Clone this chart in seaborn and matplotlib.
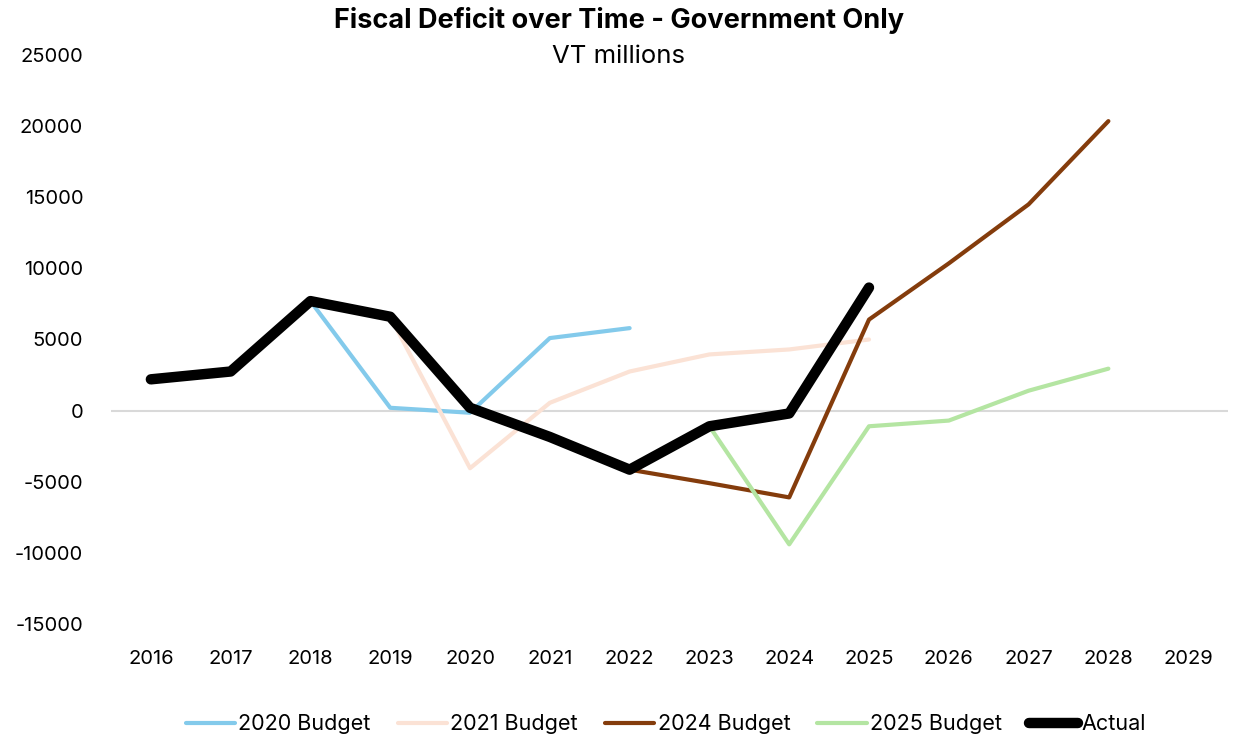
import matplotlib
matplotlib.use("Agg")
import matplotlib.pyplot as plt
import seaborn as sns
import pandas as pd
import numpy as np

years = list(range(2016, 2030))

budget_2020_years = [2018, 2019, 2020, 2021, 2022]
budget_2020_vals = [7700, 200, -150, 5100, 5800]

budget_2021_years = [2019, 2020, 2021, 2022, 2023, 2024, 2025]
budget_2021_vals = [6600, -4050, 550, 2750, 3950, 4300, 5000]

budget_2024_years = [2022, 2023, 2024, 2025, 2026, 2027, 2028]
budget_2024_vals = [-4150, -5100, -6100, 6400, 10350, 14500, 20350]

budget_2025_years = [2023, 2024, 2025, 2026, 2027, 2028]
budget_2025_vals = [-1100, -9400, -1100, -700, 1400, 2950]

actual_years = [2016, 2017, 2018, 2019, 2020, 2021, 2022, 2023, 2024, 2025]
actual_vals = [2200, 2750, 7700, 6600, 200, -1850, -4150, -1100, -200, 8650]

y_ticks = list(range(-15000, 25001, 5000))

series = [
    ("2020 Budget", budget_2020_years, budget_2020_vals, "#83CAEB", 3.0),
    ("2021 Budget", budget_2021_years, budget_2021_vals, "#FBE2D5", 3.0),
    ("2024 Budget", budget_2024_years, budget_2024_vals, "#843C0C", 3.0),
    ("2025 Budget", budget_2025_years, budget_2025_vals, "#B4E5A2", 3.0),
    ("Actual", actual_years, actual_vals, "#000000", 7.5),
]

sns.set_style("white")
plt.rcParams["font.family"] = ["Inter", "DejaVu Sans"]
plt.rcParams["text.color"] = "#000000"

fig = plt.figure(figsize=(12.33, 7.39), dpi=100)
ax = fig.add_axes([0.090, 0.1556, 0.906, 0.770])

ax.axhline(0, color="#D9D9D9", linewidth=1.5, zorder=1)

for i, (name, xs, vs, col, lw) in enumerate(series):
    df = pd.DataFrame({"Year": xs, "Value": vs})
    sns.lineplot(data=df, x="Year", y="Value", ax=ax, color=col, linewidth=lw,
                 label=name, sort=False, zorder=2 + i)

ax.set_xlim(2015.5, 2029.5)
ax.set_ylim(-15000, 25000)
ax.set_xticks(years)
ax.set_xticklabels([str(y) for y in years])
ax.set_yticks(y_ticks)
ax.set_yticklabels([str(v) for v in y_ticks])
ax.set_xlabel("")
ax.set_ylabel("")
for s in ax.spines.values():
    s.set_visible(False)
ax.tick_params(axis="both", length=0, labelsize=14.5, colors="#000000")
ax.tick_params(axis="x", pad=19)
ax.tick_params(axis="y", pad=20)

fig.text(0.502, 0.972, "Fiscal Deficit over Time - Government Only", ha="center", va="center",
         fontsize=19.5, fontweight="bold", color="#000000")
fig.text(0.502, 0.923, "VT millions", ha="center", va="center", fontsize=18.5, color="#000000")

ax.legend_.remove()
handles, labels = ax.get_legend_handles_labels()
leg = fig.legend(handles, labels, loc="center", bbox_to_anchor=(0.540, 0.020), ncol=5,
                 frameon=False, fontsize=15.5, handlelength=2.3, handletextpad=0.15,
                 columnspacing=1.25)

fig.savefig("out.png", dpi=100)
